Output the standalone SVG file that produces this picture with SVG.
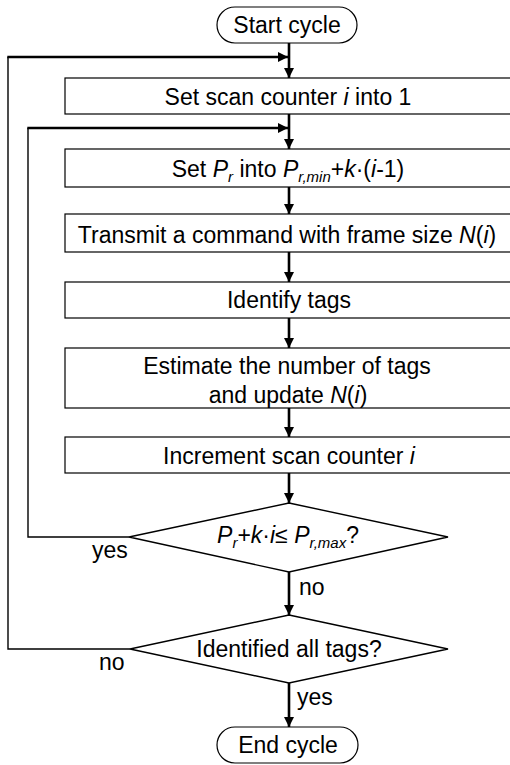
<svg xmlns="http://www.w3.org/2000/svg" width="510" height="765" viewBox="0 0 510 765">
<style>
  text { font-family: "Liberation Sans", Arial, sans-serif; font-size: 23px; fill: #000; }
  .c { text-anchor: middle; }
  .it { font-style: italic; }
  .sub { font-size: 15px; font-style: italic; }
  .box { fill: #fff; stroke: #000; stroke-width: 1.2; }
  .dia { fill: #fff; stroke: #000; stroke-width: 1.4; }
  .flow { fill: none; stroke: #000; stroke-width: 2.6; }
  .loopv { fill: none; stroke: #000; stroke-width: 1.4; }
  .looph { fill: none; stroke: #000; stroke-width: 2.4; }
</style>
<defs>
  <marker id="ah" viewBox="0 0 10 10" refX="10" refY="5" markerWidth="10" markerHeight="10" markerUnits="userSpaceOnUse" orient="auto">
    <path d="M0,0 L10,5 L0,10 Z" fill="#000"/>
  </marker>
</defs>
<rect width="510" height="765" fill="#fff"/>

<g id="connectors">
  <line class="flow" x1="289" y1="43" x2="289" y2="78" marker-end="url(#ah)"/>
  <line class="flow" x1="289" y1="114" x2="289" y2="149" marker-end="url(#ah)"/>
  <line class="flow" x1="289" y1="187" x2="289" y2="214" marker-end="url(#ah)"/>
  <line class="flow" x1="289" y1="252" x2="289" y2="282" marker-end="url(#ah)"/>
  <line class="flow" x1="289" y1="318" x2="289" y2="348" marker-end="url(#ah)"/>
  <line class="flow" x1="289" y1="408" x2="289" y2="437" marker-end="url(#ah)"/>
  <line class="flow" x1="289" y1="473" x2="289" y2="503" marker-end="url(#ah)"/>
  <line class="flow" x1="289" y1="572" x2="289" y2="615" marker-end="url(#ah)"/>
  <line class="flow" x1="289" y1="683" x2="289" y2="727" marker-end="url(#ah)"/>
  <!-- inner loop (yes) -->
  <polyline class="loopv" points="129,537 28,537 28,128"/>
  <line class="looph" x1="27.3" y1="128" x2="288" y2="128" marker-end="url(#ah)"/>
  <!-- outer loop (no) -->
  <polyline class="loopv" points="130,649 8,649 8,57"/>
  <line class="looph" x1="7.3" y1="57" x2="288" y2="57" marker-end="url(#ah)"/>
</g>

<g id="start">
  <rect x="217" y="7" width="140" height="36" rx="18" class="box"/>
  <text x="287" y="33" class="c">Start cycle</text>
</g>
<g id="set-counter">
  <rect x="65" y="78" width="450" height="36" class="box"/>
  <text x="288" y="105" class="c">Set scan counter <tspan class="it">i</tspan> into 1</text>
</g>
<g id="set-pr">
  <rect x="65" y="149" width="450" height="38" class="box"/>
  <text x="288" y="177" class="c">Set <tspan class="it">P</tspan><tspan class="sub" dy="5">r</tspan><tspan dy="-5"> into </tspan><tspan class="it">P</tspan><tspan class="sub" dy="5">r,min</tspan><tspan dy="-5">+</tspan><tspan class="it">k</tspan>·(<tspan class="it">i</tspan>-1)</text>
</g>
<g id="transmit">
  <rect x="65" y="214" width="450" height="38" class="box"/>
  <text x="287" y="243" class="c">Transmit a command with frame size <tspan class="it">N</tspan>(<tspan class="it">i</tspan>)</text>
</g>
<g id="identify">
  <rect x="65" y="282" width="450" height="36" class="box"/>
  <text x="289" y="308" class="c">Identify tags</text>
</g>
<g id="estimate">
  <rect x="65" y="348" width="450" height="60" class="box"/>
  <text x="287" y="374" class="c">Estimate the number of tags</text>
  <text x="288" y="403" class="c">and update <tspan class="it">N</tspan>(<tspan class="it">i</tspan>)</text>
</g>
<g id="increment">
  <rect x="65" y="437" width="450" height="36" class="box"/>
  <text x="289" y="464" class="c">Increment scan counter <tspan class="it">i</tspan></text>
</g>
<g id="check-power">
  <polygon points="289,503 448,537 289,572 129,537" class="dia"/>
  <text x="288" y="543" class="c"><tspan class="it">P</tspan><tspan class="sub" dy="5">r</tspan><tspan dy="-5">+</tspan><tspan class="it">k</tspan>·<tspan class="it">i</tspan>≤ <tspan class="it">P</tspan><tspan class="sub" dy="5">r,max</tspan><tspan dy="-5">?</tspan></text>
  <text x="92" y="558">yes</text>
  <text x="299" y="595">no</text>
</g>
<g id="check-tags">
  <polygon points="289,615 448,649 289,683 130,649" class="dia"/>
  <text x="289" y="657" class="c">Identified all tags?</text>
  <text x="99" y="670">no</text>
  <text x="297" y="705">yes</text>
</g>
<g id="end">
  <rect x="217" y="727" width="141" height="36" rx="18" class="box"/>
  <text x="288" y="753" class="c">End cycle</text>
</g>
</svg>
